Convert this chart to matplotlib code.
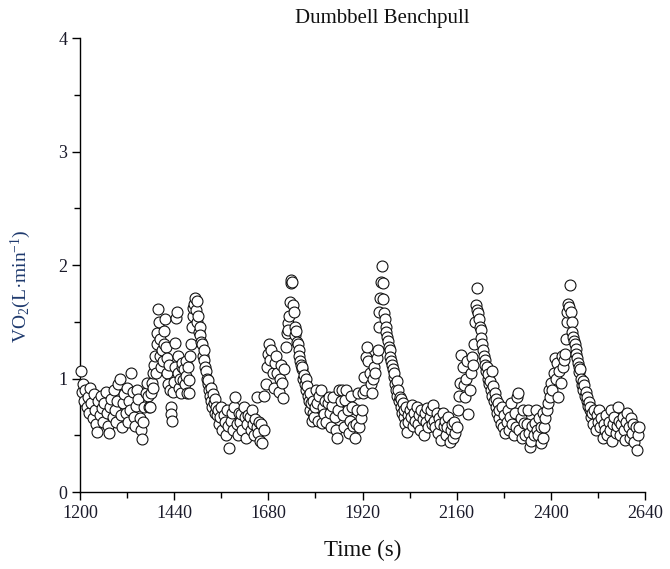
import matplotlib
matplotlib.use("Agg")
import matplotlib.pyplot as plt
from matplotlib.ticker import MultipleLocator

plt.rcParams['font.family'] = ['Liberation Serif', 'DejaVu Serif']
plt.rcParams['mathtext.fontset'] = 'custom'
plt.rcParams['mathtext.rm'] = 'Liberation Serif'
plt.rcParams['mathtext.it'] = 'Liberation Serif:italic'

# breath-by-breath VO2 readings (time in s, VO2 in L/min)
time_s = [
    # rest before first bout
    1202, 1205, 1208, 1211, 1214, 1217, 1220, 1223, 1226, 1229, 1232, 1235, 1238, 1241,
    1244, 1247, 1250, 1253, 1256, 1259, 1262, 1265, 1268, 1271, 1274, 1277, 1280, 1283,
    1286, 1289, 1292, 1295, 1298, 1301, 1304, 1307, 1310, 1313, 1316, 1319, 1322, 1325,
    1328, 1331, 1334, 1337, 1340, 1343, 1346, 1349, 1352, 1355, 1358, 1361, 1364, 1367,
    1370, 1373, 1376,
    # bout 1
    1379, 1381, 1383, 1385, 1387, 1389, 1391, 1393, 1395, 1397, 1399, 1401, 1403, 1405,
    1407, 1409, 1411, 1413, 1415, 1417, 1419, 1421, 1423, 1425, 1427, 1429, 1431, 1433,
    1435, 1437, 1439, 1441, 1443, 1445, 1447, 1449, 1451, 1453, 1455, 1457, 1459,
    1461, 1463, 1465, 1467, 1469, 1471, 1473, 1475, 1477, 1479, 1481, 1483, 1485, 1487,
    1489, 1491, 1493, 1495, 1497, 1499, 1501, 1503, 1505, 1507, 1509, 1511, 1513, 1515,
    1517, 1519, 1521, 1523, 1525, 1527, 1529, 1531, 1533, 1535, 1537, 1539, 1541, 1543,
    1545, 1547, 1549,
    # rest
    1551, 1554, 1557, 1560, 1563, 1566, 1569, 1572, 1575, 1578, 1581, 1584, 1587, 1590,
    1593, 1596, 1599, 1602, 1605, 1608, 1611, 1614, 1617, 1620, 1623, 1626, 1629, 1632,
    1635, 1638, 1641, 1644, 1647, 1650, 1652, 1653, 1656, 1659, 1662, 1665, 1668,
    # bout 2
    1670, 1673, 1676, 1679, 1682, 1685, 1688, 1691, 1694, 1697, 1700, 1703, 1706, 1709,
    1712, 1715, 1718, 1721, 1724, 1727, 1729, 1731, 1733, 1735, 1737, 1739, 1741, 1743,
    1745, 1747, 1749, 1751, 1753, 1755, 1757, 1759, 1761, 1763, 1765, 1767, 1769, 1771,
    1773, 1775, 1777, 1779, 1781, 1783, 1785, 1787, 1789, 1791, 1793, 1795, 1797, 1799,
    # rest
    1801, 1804, 1807, 1810, 1813, 1816, 1819, 1822, 1825, 1828, 1831, 1834, 1837, 1840,
    1843, 1846, 1849, 1852, 1855, 1858, 1861, 1864, 1867, 1870, 1873, 1876, 1879, 1882,
    1885, 1888, 1891, 1894, 1897, 1900, 1903, 1906, 1909, 1912, 1915,
    # bout 3
    1918, 1921, 1924, 1927, 1930, 1932, 1935, 1938, 1941, 1944, 1947, 1950, 1953, 1956,
    1959, 1961, 1963, 1965, 1967, 1969, 1971, 1973, 1975, 1977, 1979, 1981, 1983, 1985,
    1987, 1989, 1991, 1993, 1995, 1997, 1999, 2001, 2003, 2005, 2007, 2009, 2011, 2013,
    2015, 2017, 2019, 2021, 2023, 2025, 2027, 2029, 2031, 2033, 2035, 2037,
    # rest
    2040, 2043, 2046, 2049, 2052, 2055, 2058, 2061, 2064, 2067, 2070, 2073, 2076, 2079,
    2082, 2085, 2088, 2091, 2094, 2097, 2100, 2103, 2106, 2109, 2112, 2115, 2118, 2121,
    2124, 2127, 2130, 2133, 2136, 2139, 2142, 2145, 2148, 2151, 2154, 2157, 2160,
    # bout 4
    2163, 2166, 2169, 2172, 2175, 2178, 2181, 2184, 2187, 2190, 2193, 2196, 2199, 2202,
    2205, 2207, 2209, 2211, 2213, 2215, 2217, 2219, 2221, 2223, 2225, 2227, 2229, 2231,
    2233, 2235, 2237, 2239, 2241, 2243, 2245, 2247, 2249, 2251, 2253, 2255, 2257, 2259,
    2261, 2263, 2265, 2267, 2269,
    # rest
    2272, 2275, 2278, 2281, 2284, 2287, 2290, 2293, 2296, 2299, 2302, 2305, 2308, 2311,
    2314, 2317, 2320, 2323, 2326, 2329, 2332, 2335, 2338, 2341, 2344, 2347, 2350, 2353,
    2356, 2359, 2362, 2365, 2368, 2371, 2374, 2376, 2379, 2381,
    # bout 5
    2383, 2386, 2389, 2392, 2395, 2398, 2401, 2404, 2407, 2410, 2413, 2416, 2419, 2422,
    2425, 2428, 2431, 2434, 2436, 2438, 2440, 2442, 2444, 2446, 2449, 2451, 2453, 2455,
    2457, 2459, 2461, 2463, 2465, 2467, 2469, 2471, 2473, 2475, 2477, 2479, 2481, 2483,
    2485, 2487, 2489, 2491, 2493, 2495, 2497, 2499, 2501, 2503,
    # recovery
    2505, 2508, 2511, 2514, 2517, 2520, 2523, 2526, 2529, 2532, 2535, 2538, 2541, 2544,
    2547, 2550, 2553, 2556, 2559, 2562, 2565, 2568, 2571, 2574, 2577, 2580, 2583, 2586,
    2589, 2592, 2595, 2598, 2601, 2604, 2607, 2610, 2613, 2616, 2619, 2621, 2624,
]

vo2 = [
    1.07, 0.88, 0.95, 0.80, 0.90, 0.75, 0.84, 0.70, 0.92, 0.78, 0.65, 0.86, 0.72, 0.60,
    0.53, 0.80, 0.68, 0.85, 0.74, 0.62, 0.78, 0.88, 0.70, 0.58, 0.52, 0.75, 0.82, 0.66,
    0.90, 0.72, 0.62, 0.80, 0.95, 1.00, 0.68, 0.57, 0.78, 0.86, 0.70, 0.92, 0.62, 0.80,
    0.72, 1.05, 0.88, 0.66, 0.58, 0.76, 0.90, 0.82, 0.65, 0.55, 0.47, 0.62, 0.75, 0.87,
    0.96, 0.85, 0.75,
    0.75, 0.87, 0.96, 1.05, 0.92, 1.12, 1.20, 1.05, 1.30, 1.40, 1.61, 1.50, 1.35, 1.20,
    1.10, 1.25, 1.15, 1.30, 1.42, 1.52, 1.28, 1.18, 1.05, 0.95, 1.12, 0.90, 0.75, 0.69,
    0.63, 0.88, 0.97, 1.10, 1.31, 1.53, 1.59, 1.20, 1.05, 0.92, 1.00, 0.87, 1.10,
    1.14, 0.99, 1.08, 0.95, 1.15, 1.02, 0.87, 1.10, 0.99, 0.87, 1.20, 1.30, 1.45, 1.55,
    1.62, 1.66, 1.71, 1.60, 1.68, 1.50, 1.55, 1.41, 1.45, 1.38, 1.32, 1.30, 1.20, 1.25,
    1.16, 1.10, 1.07, 1.00, 0.95, 0.99, 0.90, 0.85, 0.92, 0.80, 0.75, 0.86, 0.78, 0.70,
    0.82, 0.75, 0.68,
    0.72, 0.60, 0.66, 0.75, 0.55, 0.68, 0.62, 0.50, 0.72, 0.58, 0.39, 0.63, 0.70, 0.55,
    0.75, 0.84, 0.60, 0.50, 0.70, 0.62, 0.69, 0.55, 0.75, 0.66, 0.48, 0.60, 0.68, 0.66,
    0.55, 0.72, 0.60, 0.50, 0.64, 0.57, 0.84, 0.52, 0.62, 0.45, 0.60, 0.43, 0.55,
    0.85, 0.95, 1.10, 1.22, 1.30, 1.16, 1.25, 1.05, 0.92, 1.14, 1.20, 1.05, 0.88, 1.00,
    1.12, 0.96, 0.83, 1.08, 1.28, 1.40, 1.49, 1.43, 1.55, 1.67, 1.84, 1.87, 1.85, 1.65,
    1.59, 1.45, 1.38, 1.42, 1.32, 1.30, 1.25, 1.20, 1.15, 1.12, 1.08, 1.10, 1.00, 1.03,
    0.95, 1.00, 0.90, 0.93, 0.85, 0.80, 0.87, 0.72, 0.78, 0.63, 0.70, 0.80, 0.66, 0.75,
    0.90, 0.78, 0.63, 0.85, 0.90, 0.61, 0.75, 0.69, 0.80, 0.62, 0.78, 0.84, 0.70, 0.57,
    0.76, 0.84, 0.66, 0.55, 0.48, 0.72, 0.90, 0.80, 0.90, 0.68, 0.57, 0.81, 0.90, 0.72,
    0.52, 0.63, 0.85, 0.75, 0.58, 0.48, 0.60, 0.72, 0.87, 0.57, 0.65,
    0.72, 0.87, 1.01, 0.90, 1.19, 1.28, 1.15, 1.05, 0.95, 0.87, 1.00, 1.10, 1.05, 1.18,
    1.25, 1.45, 1.59, 1.71, 1.85, 1.99, 1.84, 1.70, 1.58, 1.52, 1.45, 1.41, 1.37, 1.33,
    1.28, 1.25, 1.19, 1.15, 1.12, 1.08, 1.01, 1.05, 0.95, 0.90, 0.98, 0.85, 0.90, 0.80,
    0.84, 0.75, 0.82, 0.70, 0.78, 0.66, 0.72, 0.60, 0.75, 0.53, 0.68, 0.62,
    0.72, 0.66, 0.77, 0.58, 0.70, 0.63, 0.75, 0.60, 0.68, 0.55, 0.72, 0.64, 0.50, 0.70,
    0.62, 0.74, 0.57, 0.66, 0.72, 0.60, 0.77, 0.63, 0.57, 0.70, 0.52, 0.65, 0.60, 0.46,
    0.70, 0.58, 0.63, 0.50, 0.57, 0.66, 0.44, 0.55, 0.60, 0.48, 0.62, 0.52, 0.57,
    0.72, 0.85, 0.96, 1.21, 1.10, 0.94, 0.84, 1.00, 1.15, 0.69, 0.90, 1.05, 1.19, 1.12,
    1.30, 1.50, 1.65, 1.60, 1.80, 1.58, 1.52, 1.45, 1.43, 1.36, 1.30, 1.25, 1.20, 1.16,
    1.12, 1.07, 1.10, 1.00, 1.04, 0.95, 0.98, 0.90, 1.07, 0.85, 0.93, 0.80, 0.87, 0.75,
    0.82, 0.70, 0.78, 0.65, 0.72,
    0.60, 0.75, 0.57, 0.68, 0.52, 0.62, 0.72, 0.55, 0.66, 0.78, 0.60, 0.50, 0.70, 0.57,
    0.84, 0.87, 0.55, 0.65, 0.48, 0.72, 0.61, 0.50, 0.60, 0.72, 0.52, 0.40, 0.45, 0.58,
    0.50, 0.61, 0.72, 0.55, 0.50, 0.65, 0.57, 0.43, 0.48, 0.70,
    0.57, 0.65, 0.72, 0.78, 0.90, 0.84, 0.96, 0.90, 1.05, 1.18, 1.00, 1.14, 0.84, 1.07,
    0.96, 1.20, 1.10, 1.16, 1.22, 1.35, 1.50, 1.59, 1.66, 1.63, 1.82, 1.59, 1.50, 1.41,
    1.37, 1.33, 1.30, 1.26, 1.22, 1.18, 1.14, 1.10, 1.06, 1.08, 1.00, 0.94, 0.98, 0.90,
    0.94, 0.85, 0.88, 0.80, 0.84, 0.76, 0.79, 0.72, 0.75, 0.66,
    0.70, 0.60, 0.72, 0.55, 0.68, 0.62, 0.72, 0.57, 0.65, 0.48, 0.60, 0.55, 0.68, 0.50,
    0.62, 0.55, 0.72, 0.45, 0.60, 0.66, 0.52, 0.58, 0.75, 0.63, 0.50, 0.60, 0.66, 0.55,
    0.46, 0.62, 0.70, 0.57, 0.48, 0.65, 0.52, 0.60, 0.44, 0.57, 0.37, 0.50, 0.57,
]

x_ticks = [1200, 1440, 1680, 1920, 2160, 2400, 2640]
y_ticks = [0, 1, 2, 3, 4]

fig = plt.figure(figsize=(6.7, 5.69), dpi=100)
ax = fig.add_axes([0.1194, 0.1353, 0.8433, 0.7979])

ax.scatter(time_s, vo2, s=62, facecolors='white', edgecolors='#111111',
           linewidths=0.8, clip_on=False, zorder=3)

ax.set_xlim(1200, 2640)
ax.set_ylim(0, 4)
ax.set_xticks(x_ticks)
ax.set_yticks(y_ticks)
ax.xaxis.set_minor_locator(MultipleLocator(120))
ax.yaxis.set_minor_locator(MultipleLocator(0.5))

for s in ['top', 'right']:
    ax.spines[s].set_visible(False)
for s in ['left', 'bottom']:
    ax.spines[s].set_linewidth(1.0)

ax.tick_params(which='major', direction='out', length=6, width=1.0,
               labelsize=13, labelcolor='#1a1a2a', pad=3)
ax.tick_params(which='minor', direction='out', length=4, width=1.0)

ax.set_xlabel('Time (s)', fontsize=16.5, color='#111111')
ax.xaxis.set_label_coords(0.5, -0.106)
ax.set_ylabel(r'VO$_{\mathrm{2}}$(L·min$^{\mathrm{-1}}$)', fontsize=14,
              color='#1f3a6e')
ax.yaxis.set_label_coords(-0.083, 0.454)

fig.text(382 / 670, 1 - 18 / 569, 'Dumbbell Benchpull', ha='center', va='center',
         fontsize=15, color='#111111')

fig.savefig('out.png', dpi=100)
